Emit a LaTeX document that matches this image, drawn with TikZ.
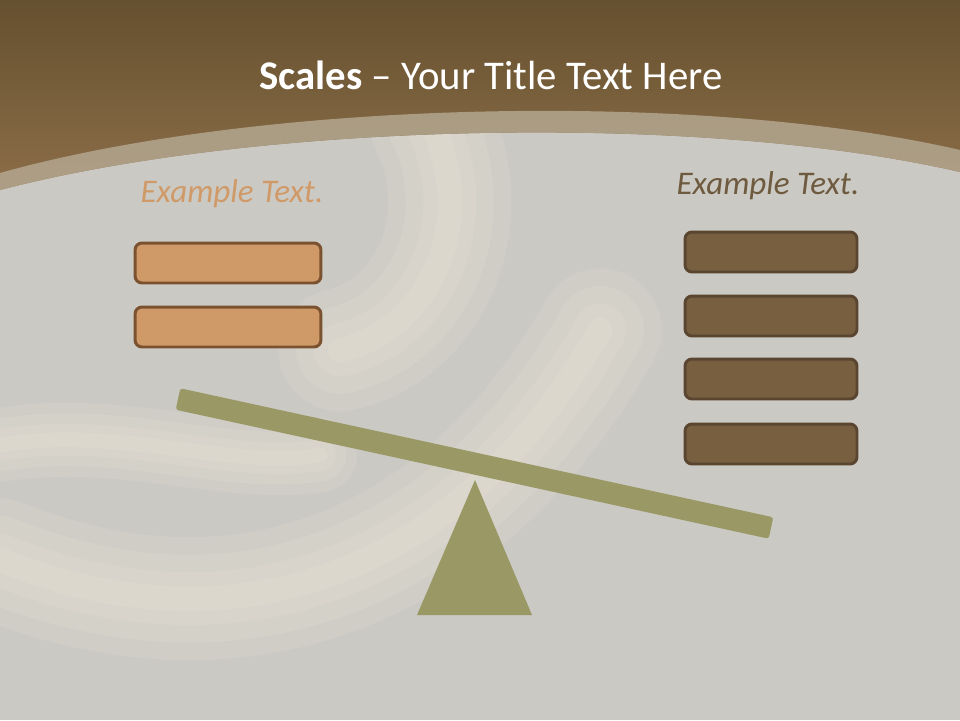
\documentclass[tikz,border=0pt]{standalone}
\usepackage{fontspec}
\setmainfont{Carlito}
\definecolor{bgGray}{HTML}{CBC9C4}
\definecolor{topBrown}{HTML}{65502F}
\definecolor{midBrown}{HTML}{8C6E48}
\definecolor{bandTan}{HTML}{B3A690}
\definecolor{cream}{HTML}{F3EBDC}
\definecolor{tanFill}{HTML}{CF9A68}
\definecolor{tanLine}{HTML}{7B5230}
\definecolor{darkFill}{HTML}{775F40}
\definecolor{darkLine}{HTML}{5A4630}
\definecolor{olive}{HTML}{9A9966}
\definecolor{tanText}{HTML}{D09A68}
\definecolor{darkText}{HTML}{6E5A3E}
\begin{document}
\begin{tikzpicture}[x=0.02cm,y=-0.02cm,
	lbox/.style={draw=tanLine,fill=tanFill,line width=1.7pt,rounded corners=4pt,minimum width=3.72cm,minimum height=0.8cm,inner sep=0pt},
	rbox/.style={draw=darkLine,fill=darkFill,line width=1.7pt,rounded corners=4pt,minimum width=3.44cm,minimum height=0.8cm,inner sep=0pt},
	glow/.style={cream,line cap=round,opacity=0.14},
	label/.style={font=\fontsize{18.8}{22}\selectfont\itshape}]
	\useasboundingbox (0,0) rectangle (960,720);
	% background
	\fill[bgGray] (0,0) rectangle (960,720);
	\begin{scope}
	\clip (0,190) .. controls (260,122) and (700,112) .. (960,172) -- (960,720) -- (0,720) -- cycle;
	\foreach \w in {70,50,30,14} {
		\draw[glow,line width=\w pt] (0,560) .. controls (250,660) and (470,560) .. (600,330);
		\draw[glow,line width=\w pt] (430,120) .. controls (480,220) and (430,330) .. (340,350);
		\draw[glow,line width=0.6*\w pt] (0,445) .. controls (120,425) and (230,470) .. (320,455);
	}
	\end{scope}
	% header
	\shade[top color=topBrown,bottom color=midBrown] (0,0) -- (960,0) -- (960,172) .. controls (700,112) and (260,122) .. (0,190) -- cycle;
	\fill[bandTan,opacity=0.85] (0,173) .. controls (260,100) and (700,90) .. (960,150) -- (960,172) .. controls (700,112) and (260,122) .. (0,190) -- cycle;
	\node[white,font=\fontsize{23.2}{28}\selectfont] (title) at (491,75) {\textbf{Scales} -- Your Title Text Here};
	% left pan
	\node[label,text=tanText] (ltext) at (232,194) {Example Text.};
	\foreach \i/\y in {1/263,2/327}
		\node[lbox] (l\i) at (228,\y) {};
	% right pan
	\node[label,text=darkText] (rtext) at (768,186) {Example Text.};
	\foreach \i/\y in {1/252,2/316,3/379,4/444}
		\node[rbox] (r\i) at (771,\y) {};
	% beam and stand
	\fill[olive] (475,480) -- (532,615) -- (417,615) -- cycle;
	\fill[olive,rounded corners=1.5pt] (180.3,388.3) -- (773.3,517.3) -- (768.7,538.7) -- (175.7,409.7) -- cycle;
\end{tikzpicture}
\end{document}
